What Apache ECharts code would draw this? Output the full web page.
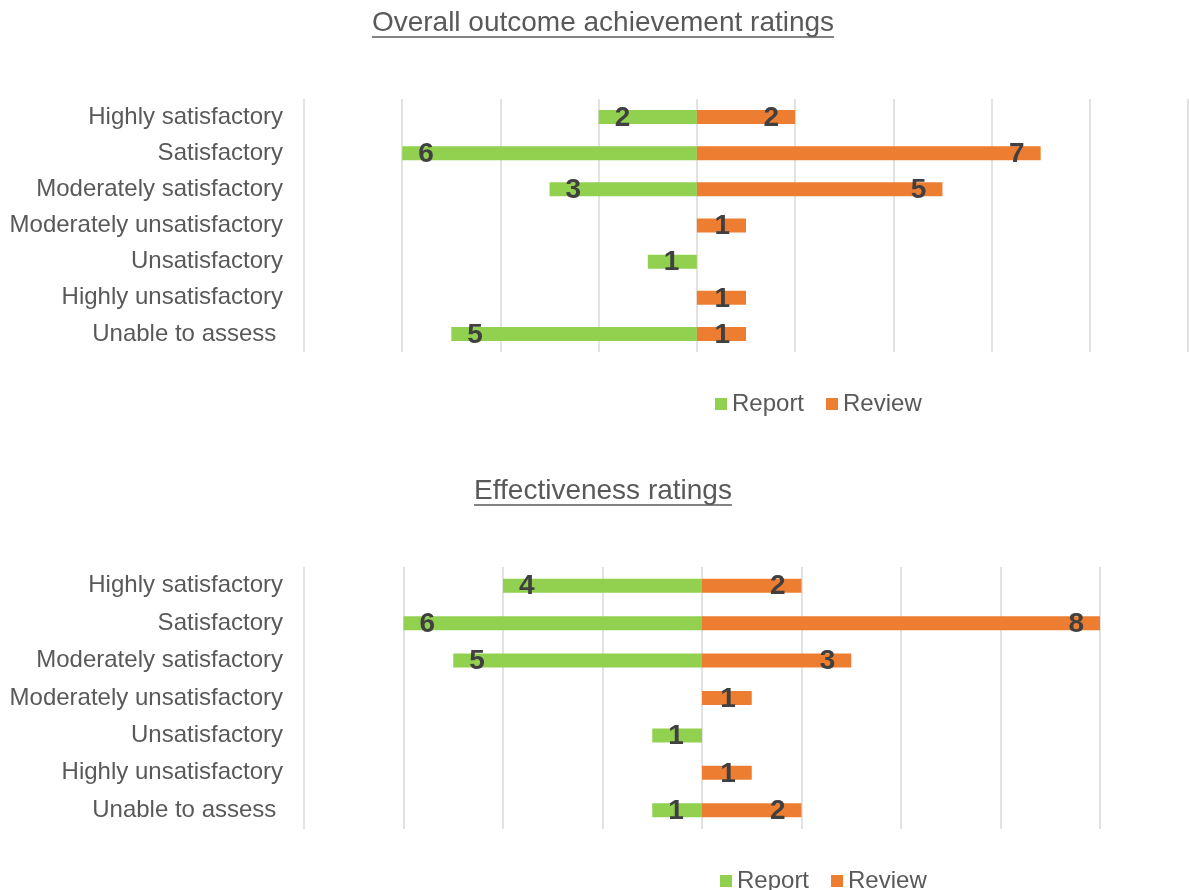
<!DOCTYPE html>
<html>
<head>
<meta charset="utf-8">
<script src="https://cdn.jsdelivr.net/npm/echarts@6/dist/echarts.min.js"></script>
<style>
  html, body { margin: 0; padding: 0; background: #fff; }
  #main { width: 1189px; height: 890px; }
</style>
</head>
<body>
<div id="main"></div>
<script>
// ratings, top to bottom
var categories = ['Highly satisfactory', 'Satisfactory', 'Moderately satisfactory',
  'Moderately unsatisfactory', 'Unsatisfactory', 'Highly unsatisfactory', 'Unable to assess '];

var outcomeReport = [2, 6, 3, 0, 1, 0, 5];
var outcomeReview = [2, 7, 5, 1, 0, 1, 1];
var effReport = [4, 6, 5, 0, 1, 0, 1];
var effReview = [2, 8, 3, 1, 0, 1, 2];

var outcomeTicks = [-8, 10, 2]; // min, max, interval
var effTicks = [-8, 8, 2];

var titles = ['Overall outcome achievement ratings', 'Effectiveness ratings'];

var GREEN = '#92D050', ORANGE = '#ED7D31';
var FONT = '"Liberation Sans", Arial, sans-serif';

var chart = echarts.init(document.getElementById('main'));

function neg(arr) { return arr.map(function (v) { return -v; }); }

function textWidth(str, size) {
  var ctx = document.createElement('canvas').getContext('2d');
  ctx.font = size + 'px ' + FONT;
  return ctx.measureText(str).width;
}

function underlinedTitle(str, cx, cy) {
  var w = textWidth(str, 28);
  return {
    type: 'group',
    children: [
      { type: 'text', x: cx, y: cy,
        style: { text: str, font: '28px ' + FONT, fill: '#595959', align: 'center', verticalAlign: 'middle' } },
      { type: 'line', shape: { x1: cx - w / 2, y1: cy + 14, x2: cx + w / 2, y2: cy + 14 },
        style: { stroke: '#595959', lineWidth: 1.5 } }
    ]
  };
}

function barLabel(pos) {
  return {
    show: true,
    position: pos,
    distance: 16,
    offset: [0, 1],
    color: '#404040',
    fontWeight: 'bold',
    fontSize: 28,
    fontFamily: FONT,
    formatter: function (p) { return p.value === 0 ? '' : Math.abs(p.value); }
  };
}

function xAxisOf(idx, ticks) {
  return {
    type: 'value', gridIndex: idx, min: ticks[0], max: ticks[1], interval: ticks[2],
    axisLabel: { show: false }, axisLine: { show: false }, axisTick: { show: false },
    splitLine: { lineStyle: { color: '#d9d9d9', width: 1.5 } }
  };
}

function yAxisOf(idx) {
  return {
    type: 'category', gridIndex: idx, data: categories, inverse: true,
    axisLine: { show: false }, axisTick: { show: false },
    axisLabel: { color: '#595959', fontSize: 24, fontFamily: FONT, margin: 21 }
  };
}

function seriesOf(name, idx, data, color, pos) {
  return {
    name: name, type: 'bar', xAxisIndex: idx, yAxisIndex: idx,
    data: data, barWidth: 14, barGap: '-100%',
    itemStyle: { color: color },
    label: barLabel(pos)
  };
}

var legendText = { color: '#595959', fontSize: 24, fontFamily: FONT };

chart.setOption({
  animation: false,
  grid: [
    { left: 304, right: 1, top: 99, height: 253 },
    { left: 304, right: 89, top: 567, height: 262 }
  ],
  xAxis: [xAxisOf(0, outcomeTicks), xAxisOf(1, effTicks)],
  yAxis: [yAxisOf(0), yAxisOf(1)],
  legend: [
    { left: 710, top: 387, icon: 'rect', itemWidth: 12, itemHeight: 12, itemGap: 22,
      textStyle: legendText, data: ['Report', 'Review'] },
    { left: 715, top: 864, icon: 'rect', itemWidth: 12, itemHeight: 12, itemGap: 22,
      textStyle: legendText, data: ['Report', 'Review'] }
  ],
  graphic: [
    underlinedTitle(titles[0], 603, 23),
    underlinedTitle(titles[1], 603, 491)
  ],
  series: [
    seriesOf('Report', 0, neg(outcomeReport), GREEN, 'insideLeft'),
    seriesOf('Review', 0, outcomeReview, ORANGE, 'insideRight'),
    seriesOf('Report', 1, neg(effReport), GREEN, 'insideLeft'),
    seriesOf('Review', 1, effReview, ORANGE, 'insideRight')
  ]
});
</script>
</body>
</html>
